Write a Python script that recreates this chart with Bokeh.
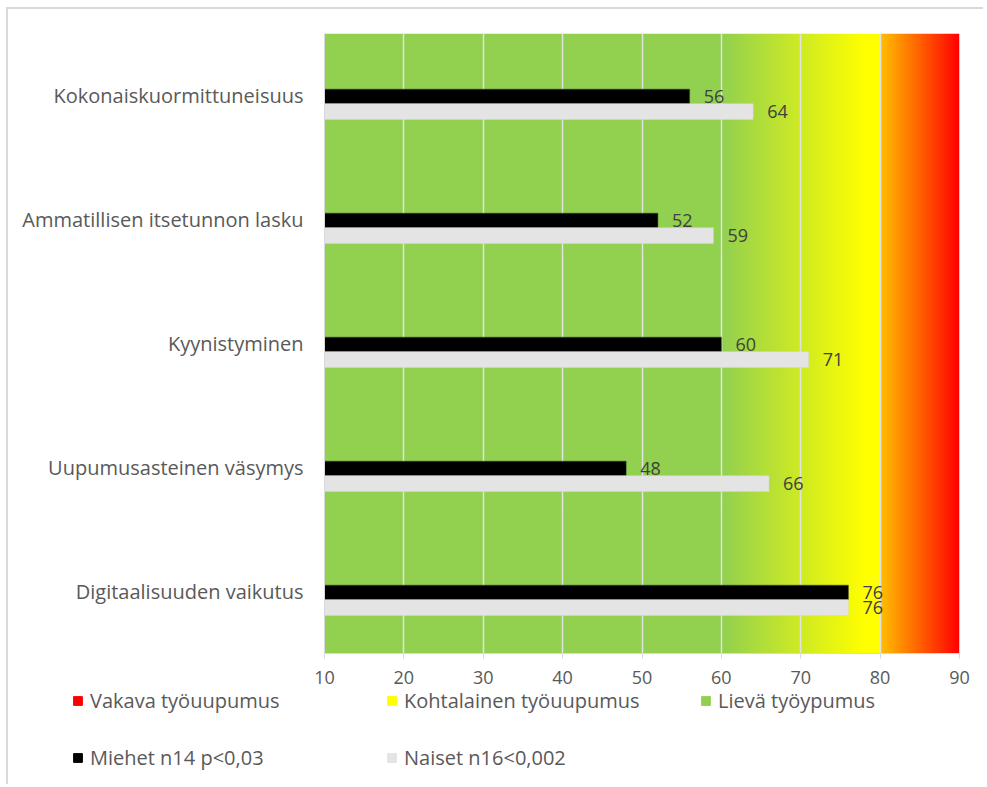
import numpy as np
from bokeh.plotting import figure
from bokeh.layouts import column
from bokeh.models import (ColumnDataSource, FixedTicker, Legend, LegendItem, Range1d)
from bokeh.core.properties import value
from bokeh.embed import file_html
from bokeh.resources import INLINE

# ---------------- data ----------------
categories = ["Kokonaiskuormittuneisuus", "Ammatillisen itsetunnon lasku",
              "Kyynistyminen", "Uupumusasteinen väsymys", "Digitaalisuuden vaikutus"]
miehet = [56, 52, 60, 48, 76]
naiset = [64, 59, 71, 66, 76]
x_ticks = [10, 20, 30, 40, 50, 60, 70, 80, 90]

# background zones (gradient stops: value -> colour)
zone_stops = [10, 60, 78, 80, 80, 90]
zone_stop_colors = ["#92D050", "#92D050", "#FFFF00", "#FFFF00", "#FFC000", "#FF0000"]

legend_labels = ["Vakava työuupumus", "Kohtalainen työuupumus", "Lievä työypumus",
                 "Miehet n14 p<0,03", "Naiset n16<0,002"]
legend_colors = ["#FF0000", "#FFFF00", "#92D050", "#000000", "#E4E4E4"]

FONT = "Open Sans"
TXT = "#595959"

n = len(categories)
ypos = [n - 0.5 - i for i in range(n)]  # top to bottom

p = figure(width=975, height=678, x_range=Range1d(10, 90), y_range=Range1d(0, n),
           output_backend="svg", toolbar_location=None,
           min_border_left=316, min_border_right=24, min_border_top=24, min_border_bottom=34)
p.outline_line_color = None
p.background_fill_color = "white"

# ---------- gradient background ----------
def hex2rgb(h):
    h = h.lstrip("#")
    return [int(h[i:i + 2], 16) for i in (0, 2, 4)]

N = 1600
xs = np.linspace(zone_stops[0], zone_stops[-1], N, endpoint=False) + (zone_stops[-1] - zone_stops[0]) / N / 2
img = np.zeros((1, N), dtype=np.uint32)
view = img.view(dtype=np.uint8).reshape((1, N, 4))
for k, xv in enumerate(xs):
    seg = 0
    for s in range(len(zone_stops) - 1):
        if zone_stops[s] <= xv < zone_stops[s + 1]:
            seg = s
    a, b = zone_stops[seg], zone_stops[seg + 1]
    t = 0 if b == a else (xv - a) / (b - a)
    c0, c1 = hex2rgb(zone_stop_colors[seg]), hex2rgb(zone_stop_colors[seg + 1])
    col = [round(c0[j] + (c1[j] - c0[j]) * t) for j in range(3)]
    view[0, k, 0:3] = col
    view[0, k, 3] = 255
p.image_rgba(image=[img], x=zone_stops[0], y=0, dw=zone_stops[-1] - zone_stops[0], dh=n, level="image")

# ---------- bars ----------
m_src = ColumnDataSource(dict(y=[y - 0.008 for y in ypos], right=miehet, txt=[str(v) for v in miehet]))
w_src = ColumnDataSource(dict(y=[y - 0.13 for y in ypos], right=naiset, txt=[str(v) for v in naiset]))

p.hbar(y="y", left=10, right="right", height=0.118, source=m_src,
       fill_color="#000000", line_color="#3a3a3a", line_width=0.5)
p.hbar(y="y", left=10, right="right", height=0.128, source=w_src,
       fill_color="#E4E4E4", line_color="#D6D6D6", line_width=0.5)

for src in (m_src, w_src):
    p.text(x="right", y="y", text="txt", source=src, x_offset=14,
           text_baseline="middle", text_align="left",
           text_font=value(FONT), text_font_size="18px", text_color="#404040")

# ---------- axes / grid ----------
p.xaxis.ticker = FixedTicker(ticks=x_ticks)
p.xaxis.axis_line_color = "#D9D9D9"
p.xaxis.major_tick_line_color = "#D9D9D9"
p.xaxis.major_tick_out = 5
p.xaxis.major_tick_in = 0
p.xaxis.minor_tick_line_color = None
p.xaxis.major_label_standoff = 12
p.xaxis.major_label_text_font = FONT
p.xaxis.major_label_text_font_size = "18px"
p.xaxis.major_label_text_color = TXT

p.yaxis.ticker = FixedTicker(ticks=ypos)
p.yaxis.major_label_overrides = {yv: c for yv, c in zip(ypos, categories)}
p.yaxis.axis_line_color = "#D9D9D9"
p.yaxis.major_tick_line_color = None
p.yaxis.minor_tick_line_color = None
p.yaxis.major_label_standoff = 15
p.yaxis.major_label_text_font = FONT
p.yaxis.major_label_text_font_size = "20px"
p.yaxis.major_label_text_color = TXT

p.xgrid.grid_line_color = "#E2E2E2"
p.xgrid.grid_line_width = 1.5
p.ygrid.grid_line_color = None

# ---------- legend (separate strip below the chart) ----------
q = figure(width=975, height=97, x_range=Range1d(0, 1), y_range=Range1d(0, 1),
           output_backend="svg", toolbar_location=None,
           min_border_left=0, min_border_right=0, min_border_top=0, min_border_bottom=0)
q.axis.visible = False
q.grid.visible = False
q.outline_line_color = None
for fig in (p, q):
    try:
        fig.frame_align = False
    except Exception:
        pass

items = []
for lab, c in zip(legend_labels, legend_colors):
    # legend key renderers: one off-range point each, only their key is visible
    r = q.hbar(y=[-5], left=[0], right=[0.1], height=0.1, fill_color=c, line_color=c)
    items.append(LegendItem(label=lab, renderers=[r]))

legend = Legend(items=items, orientation="horizontal", ncols=3,
                location=(64, 13), padding=0, margin=0,
                glyph_width=11, glyph_height=11, label_standoff=7,
                label_width=266, spacing=30,
                label_text_font=FONT, label_text_font_size="20px", label_text_color=TXT,
                border_line_color=None, background_fill_alpha=0)
q.add_layout(legend, "center")

layout = column(p, q, spacing=0)
layout.styles = {"margin-left": "6px", "margin-top": "7px",
                 "border-left": "2px solid #D9D9D9", "border-top": "2px solid #D9D9D9"}

open("out.html", "w").write(file_html(layout, INLINE))
